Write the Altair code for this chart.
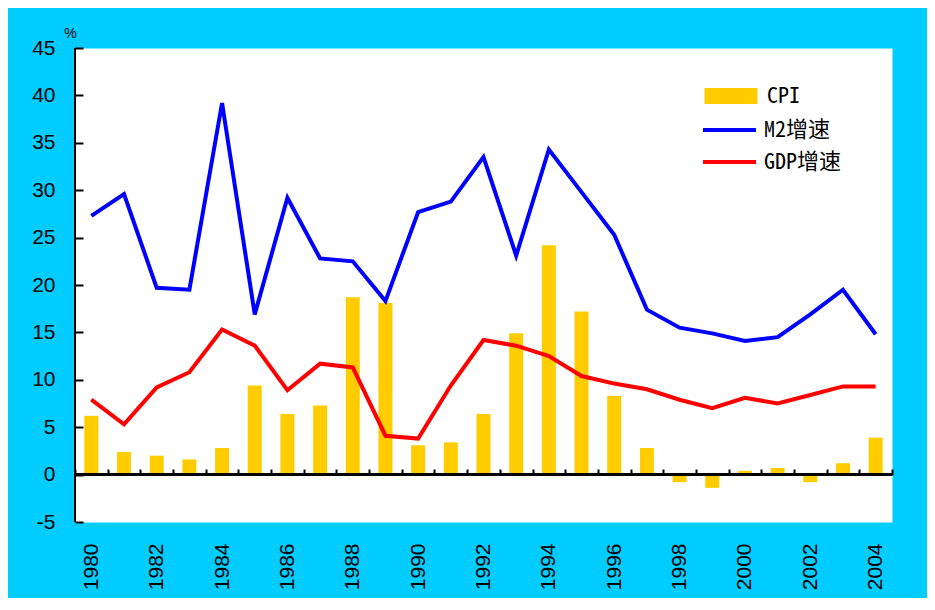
import altair as alt
import pandas as pd

years = list(range(1980, 2005))
cpi = [6.2, 2.4, 2.0, 1.6, 2.8, 9.4, 6.4, 7.3, 18.7, 18.1, 3.1, 3.4, 6.4,
       14.9, 24.2, 17.2, 8.3, 2.8, -0.8, -1.4, 0.4, 0.7, -0.8, 1.2, 3.9]
m2 = [27.3, 29.6, 19.7, 19.5, 39.2, 16.9, 29.2, 22.8, 22.5, 18.3, 27.7, 28.8, 33.5,
      23.1, 34.3, 29.8, 25.3, 17.4, 15.5, 14.9, 14.1, 14.5, 16.9, 19.5, 14.8]
gdp = [7.9, 5.3, 9.2, 10.8, 15.3, 13.6, 8.9, 11.7, 11.3, 4.1, 3.8, 9.4, 14.2,
       13.6, 12.5, 10.4, 9.6, 9.0, 7.9, 7.0, 8.1, 7.5, 8.4, 9.3, 9.3]
bar_name = ["CPI"]
line_names = ["M2增速", "GDP增速"]
bar_color = ["#ffcc00"]
line_colors = ["#0000ff", "#ff0000"]
y_ticks = [-5, 0, 5, 10, 15, 20, 25, 30, 35, 40, 45]
y_domain = [-5, 45]

bar_df = pd.DataFrame({"year": years, "value": cpi, "series": bar_name[0]})
line_df = pd.concat([
    pd.DataFrame({"year": years, "value": m2, "series": line_names[0]}),
    pd.DataFrame({"year": years, "value": gdp, "series": line_names[1]}),
], ignore_index=True)

FONT = "Liberation Sans"
LFONT = "Noto Sans Mono CJK SC, Noto Sans CJK SC"

x_enc = alt.X(
    "year:O",
    scale=alt.Scale(paddingInner=0, paddingOuter=0),
    axis=alt.Axis(
        title=None, orient="bottom", offset=-53, tickSize=6, tickWidth=2,
        tickColor="black", tickBand="extent", domain=False,
        labelAngle=270, labelPadding=68, labelFont=FONT, labelFontSize=21,
        labelColor="black", labelOverlap=False,
        labelExpr="toNumber(datum.value) % 2 == 0 ? datum.label : ''",
    ),
)
y_enc = alt.Y(
    "value:Q",
    scale=alt.Scale(domain=y_domain, nice=False, zero=False),
    axis=alt.Axis(
        values=y_ticks, offset=-8, tickSize=8, tickWidth=2, tickColor="black",
        domain=False, grid=False, labelPadding=20, labelFont=FONT,
        labelFontSize=21, labelColor="black",
        labelExpr="'' + datum.value",
        title="%", titleAngle=0, titleFont=FONT, titleFontSize=14,
        titleFontWeight="normal", titleColor="black",
        titleX=-13, titleY=-11, titleAlign="center", titleBaseline="alphabetic",
    ),
)

bars = alt.Chart(bar_df).mark_bar(size=14).encode(
    x=x_enc,
    y=y_enc,
    fill=alt.Fill(
        "series:N",
        scale=alt.Scale(domain=bar_name, range=bar_color),
        legend=alt.Legend(
            orient="none", legendX=645, legendY=37, title=None, padding=0,
            symbolType="M-4,-1.2H4V1.2H-4Z", symbolSize=175.6,
            symbolStrokeWidth=0, labelFont=LFONT, labelFontSize=22,
            labelColor="black", labelOffset=25,
        ),
    ),
)

lines = alt.Chart(line_df).mark_line(strokeWidth=4).encode(
    x=x_enc,
    y=y_enc,
    stroke=alt.Stroke(
        "series:N",
        scale=alt.Scale(domain=line_names, range=line_colors),
        sort=line_names,
        legend=alt.Legend(
            orient="none", legendX=643.5, legendY=71, title=None, padding=0,
            symbolType="M-4,0H4", symbolSize=175.6, symbolStrokeWidth=4,
            labelFont=LFONT, labelFontSize=22, labelColor="black",
            labelOffset=23.5, rowPadding=10,
        ),
    ),
)

zero_rule = alt.Chart(bar_df).mark_rule(color="black", strokeWidth=2).encode(
    y=alt.datum(0)
)
y_domain_rule = alt.Chart(bar_df).mark_rule(color="black", strokeWidth=2).encode(
    x=alt.value(0), y=alt.datum(y_domain[0]), y2=alt.datum(y_domain[1])
)

chart = alt.layer(bars, zero_rule, lines, y_domain_rule).properties(
    width=817,
    height=474,
    background="#00ccff",
    padding={"left": 67, "top": 40, "right": 35, "bottom": 76},
    autosize=alt.AutoSizeParams(type="none"),
).configure_view(fill="white", stroke="transparent")

chart.save("out.html", embed_options={"renderer": "svg", "actions": False})
